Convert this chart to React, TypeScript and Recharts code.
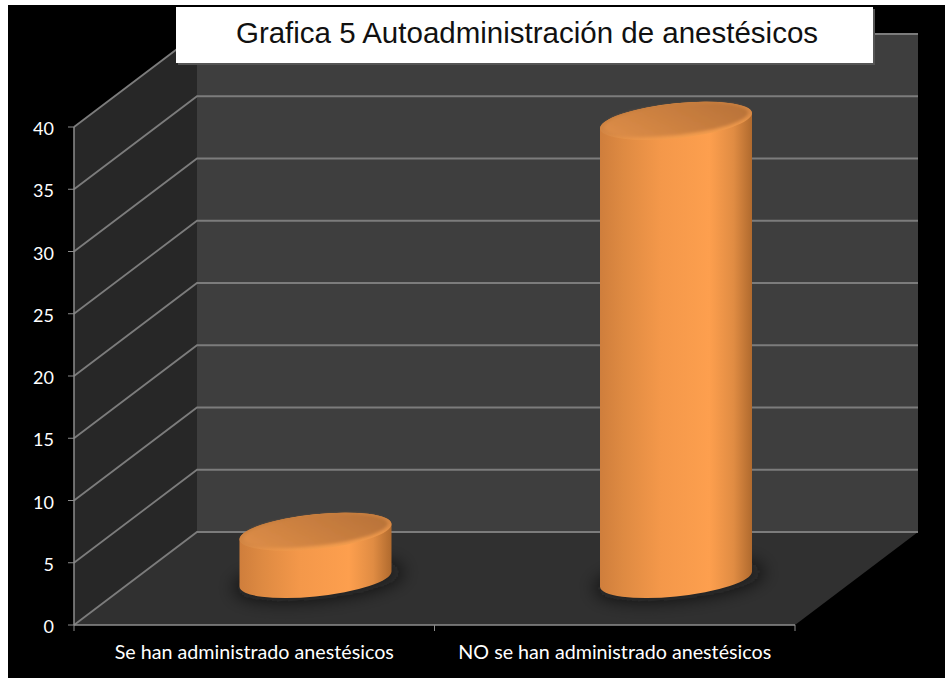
import { Bar, BarChart, CartesianGrid, XAxis, YAxis } from 'recharts'

const categories = ['Se han administrado anestésicos', 'NO se han administrado anestésicos']
const responses = [4, 37]
const valueTicks = [0, 5, 10, 15, 20, 25, 30, 35, 40]
const chartTitle = 'Grafica 5 Autoadministración de anestésicos'

const chartData = categories.map((label, index) => ({ label, total: responses[index] }))

const width = 945
const height = 678
const plot = { left: 74, right: 795, top: 127, bottom: 625 }

// 3D box depth, the back wall sits this far from the front axes
const depthX = 123
const depthY = -93

const gridColor = '#7c7c7c'
const axisColor = '#8c8c8c'
const labelFont = 'Lato, "Open Sans", sans-serif'

// gridline runs along the side wall, then across the back wall
function wallLine(props: { x1?: number; x2?: number; y1?: number; key?: string }) {
  const { x1 = 0, x2 = 0, y1 = 0 } = props
  return (
    <polyline
      key={`wall-${y1}`}
      points={`${x1},${y1} ${x1 + depthX},${y1 + depthY} ${x2 + depthX},${y1 + depthY}`}
      fill="none"
      stroke={gridColor}
      strokeWidth={1.8}
    />
  )
}

function Walls() {
  const { left, right, top, bottom } = plot
  const backLeft = left + depthX
  const backRight = right + depthX
  const backTop = top + depthY
  const backBottom = bottom + depthY
  return (
    <svg width={width} height={height} style={{ position: 'absolute', left: 0, top: 0 }}>
      <defs>
        <linearGradient id="cylinderSide" x1="0" x2="1" y1="0" y2="0">
          <stop offset="0" stopColor="#cf7e3c" />
          <stop offset="0.15" stopColor="#de8a42" />
          <stop offset="0.4" stopColor="#f4984a" />
          <stop offset="0.72" stopColor="#fd9f4e" />
          <stop offset="0.88" stopColor="#e08c43" />
          <stop offset="1" stopColor="#b06a2e" />
        </linearGradient>
        <linearGradient id="cylinderTop" x1="0" x2="1" y1="0.6" y2="0.3">
          <stop offset="0" stopColor="#dc8c47" />
          <stop offset="1" stopColor="#b87238" />
        </linearGradient>
        <linearGradient id="cylinderRim" x1="0.3" x2="0.5" y1="0" y2="1">
          <stop offset="0" stopColor="#c47c3c" />
          <stop offset="0.6" stopColor="#d68845" />
          <stop offset="1" stopColor="#f39c4d" />
        </linearGradient>
        <filter id="baseShadow" x="-30%" y="-80%" width="160%" height="260%">
          <feGaussianBlur stdDeviation="9" />
        </filter>
        <filter id="topSoften" x="-5%" y="-10%" width="110%" height="120%">
          <feGaussianBlur stdDeviation="1.5" />
        </filter>
      </defs>
      <rect x={8} y={5} width={width - 8} height={height - 5} fill="#000000" />
      <polygon points={`${backLeft},${backTop} ${backRight},${backTop} ${backRight},${backBottom} ${backLeft},${backBottom}`} fill="#3e3e3e" />
      <polygon points={`${left},${top} ${backLeft},${backTop} ${backLeft},${backBottom} ${left},${bottom}`} fill="#272727" />
      <polygon points={`${left},${bottom} ${right},${bottom} ${backRight},${backBottom} ${backLeft},${backBottom}`} fill="#303030" />
    </svg>
  )
}

// Cylinder mark, drawn from the rectangle the bar series hands over
function Cylinder(props: { x?: number; y?: number; width?: number; height?: number }) {
  const { x = 0, y = 0, width: barWidth = 0, height: barHeight = 0 } = props
  const cx = x + barWidth / 2 + depthX / 2
  const topY = y - 43.5
  const baseY = y + barHeight - 46

  const tilt = -6
  const rad = (tilt * Math.PI) / 180
  const extent = barWidth / 2
  const ry = 17.4
  const rx = Math.sqrt((extent * extent - ry * ry * Math.sin(rad) ** 2) / Math.cos(rad) ** 2)
  // x extreme of the tilted ellipse sits off the horizontal by this much
  const skew = ((rx * rx - ry * ry) * Math.abs(Math.sin(rad) * Math.cos(rad))) / extent

  const side = [
    `M ${cx - extent} ${topY + skew}`,
    `L ${cx - extent} ${baseY + skew}`,
    `A ${rx} ${ry} ${tilt} 0 0 ${cx + extent} ${baseY - skew}`,
    `L ${cx + extent} ${topY - skew}`,
    `A ${rx} ${ry} ${tilt} 0 0 ${cx - extent} ${topY + skew}`,
    'Z',
  ].join(' ')

  return (
    <g>
      <ellipse
        cx={cx + 3}
        cy={baseY + 1}
        rx={rx + 9}
        ry={ry + 2}
        transform={`rotate(${tilt} ${cx + 3} ${baseY + 1})`}
        fill="#0a0a0a"
        fillOpacity={0.7}
        filter="url(#baseShadow)"
      />
      <path d={side} fill="url(#cylinderSide)" />
      <ellipse cx={cx} cy={topY} rx={rx} ry={ry} transform={`rotate(${tilt} ${cx} ${topY})`} fill="url(#cylinderRim)" />
      <ellipse
        cx={cx}
        cy={topY - 1}
        rx={rx - 4}
        ry={ry - 2.5}
        transform={`rotate(${tilt} ${cx} ${topY - 1})`}
        fill="url(#cylinderTop)"
        filter="url(#topSoften)"
      />
    </g>
  )
}

function CategoryTick(props: { x?: number; payload?: { value: string } }) {
  const { x = 0, payload } = props
  const band = (plot.right - plot.left) / categories.length
  return (
    <g>
      <line x1={x - band / 2} x2={x - band / 2} y1={plot.bottom} y2={plot.bottom + 6} stroke={axisColor} />
      <line x1={x + band / 2} x2={x + band / 2} y1={plot.bottom} y2={plot.bottom + 6} stroke={axisColor} />
      <text x={x} y={plot.bottom + 34} textAnchor="middle" fill="#ffffff" fontFamily={labelFont} fontSize={19.7}>
        {payload?.value}
      </text>
    </g>
  )
}

function ValueTick(props: { x?: number; y?: number; payload?: { value: number } }) {
  const { x = 0, y = 0, payload } = props
  return (
    <text x={x + 1} y={y + 8} textAnchor="end" fill="#ffffff" fontFamily={labelFont} fontSize={18}>
      {payload?.value}
    </text>
  )
}

export default function App() {
  return (
    <div style={{ position: 'absolute', left: 0, top: 0, width, height, background: '#ffffff', overflow: 'hidden' }}>
      <Walls />
      <div style={{ position: 'absolute', left: 0, top: 0 }}>
        <BarChart
          width={width}
          height={height}
          data={chartData}
          margin={{ left: 0, right: width - plot.right, top: plot.top, bottom: 0 }}
          barCategoryGap={0}
        >
          <CartesianGrid vertical={false} horizontal={wallLine} />
          <XAxis
            dataKey="label"
            height={height - plot.bottom}
            interval={0}
            tickLine={false}
            axisLine={{ stroke: axisColor, strokeWidth: 1.5 }}
            tick={CategoryTick}
          />
          <YAxis
            width={plot.left}
            domain={[0, 40]}
            ticks={valueTicks}
            interval={0}
            tickSize={6}
            tickMargin={15}
            tickLine={{ stroke: axisColor }}
            axisLine={{ stroke: axisColor, strokeWidth: 1.5 }}
            tick={ValueTick}
          />
          <Bar dataKey="total" barSize={152} isAnimationActive={false} shape={Cylinder} />
        </BarChart>
      </div>
      <div
        style={{
          position: 'absolute',
          left: 176,
          top: 7,
          width: 697,
          height: 56,
          boxSizing: 'border-box',
          paddingLeft: 5,
          background: '#ffffff',
          boxShadow: '2px 2px 0 #555555',
          fontFamily: '"Liberation Sans", Arial, sans-serif',
          fontSize: 29.5,
          lineHeight: '52px',
          textAlign: 'center',
          color: '#111111',
          whiteSpace: 'nowrap',
        }}
      >
        {chartTitle}
      </div>
    </div>
  )
}
